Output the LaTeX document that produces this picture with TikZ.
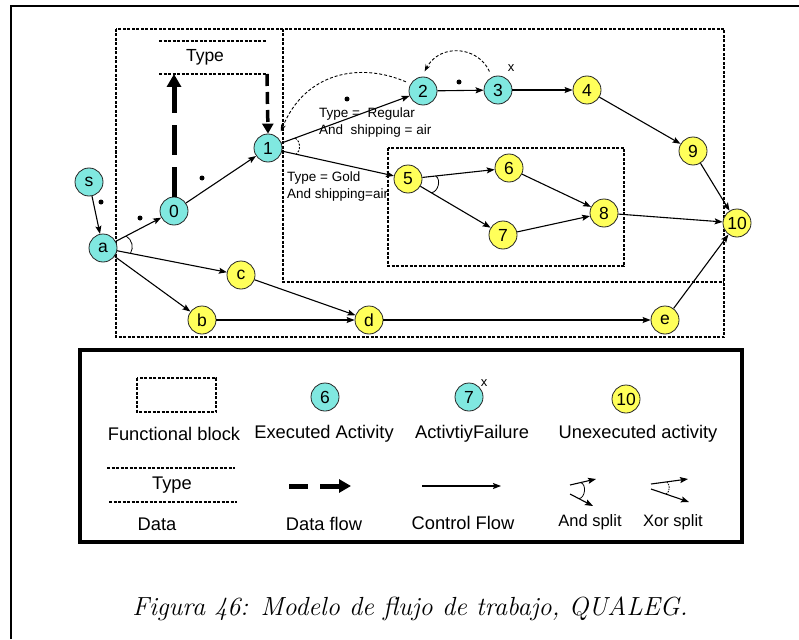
\documentclass[tikz,border=0pt]{standalone}
\usepackage{fontspec}
\newfontfamily\arial{Liberation Sans}
\usetikzlibrary{arrows.meta,calc}
\definecolor{execc}{RGB}{128,232,224}
\definecolor{unexecc}{RGB}{255,255,90}
\begin{document}
\begin{tikzpicture}[x=1pt,y=-1pt,
  act/.style={circle,draw=black!85,line width=0.8pt,minimum size=28pt,inner sep=0pt,font=\arial\fontsize{17.5}{17.5}\selectfont},
  ex/.style={act,fill=execc},
  un/.style={act,fill=unexecc},
  cf/.style={-{Stealth[length=8pt,width=6pt,inset=1.5pt]},line width=1.1pt},
  block/.style={draw,dash pattern=on 3pt off 1.5pt,line width=1.1pt},
  tok/.style={circle,fill=black,inner sep=0pt,minimum size=5pt},
  lbl/.style={font=\arial\fontsize{13.5}{16.5}\selectfont,align=left,inner sep=0pt},
  leg/.style={font=\arial\fontsize{18.3}{18.3}\selectfont,inner sep=0pt},
  bigt/.style={font=\arial\fontsize{17.5}{17.5}\selectfont,inner sep=0pt},
  xmark/.style={font=\arial\fontsize{13}{13}\selectfont,inner sep=0pt}
]
\useasboundingbox (0,0) rectangle (799,639);
% page frame
\draw[line width=2pt] (11,639) -- (11,6) -- (799,6);

% functional blocks
\draw[block] (116,29) rectangle (724,337);
\draw[block] (283,29) -- (283,282) -- (724,282);
\draw[block] (388,148) rectangle (624,266);

% data
\draw[block] (159,41) -- (267,41);
\draw[block] (159,74) -- (267,74);
\node[bigt] (typetop) at (205,57) {Type};

% activities
\node[ex] (s) at (89,182) {s};
\node[ex] (a) at (103,248) {a};
\node[ex] (n0) at (174,211) {0};
\node[ex] (n1) at (268,148) {1};
\node[ex] (n2) at (423,91) {2};
\node[ex] (n3) at (498,90) {3};
\node[un] (n4) at (587,90) {4};
\node[un] (n9) at (693,151) {9};
\node[un] (n10) at (737,223) {10};
\node[un] (n5) at (408,179) {5};
\node[un] (n6) at (509,168) {6};
\node[un] (n7) at (503,235) {7};
\node[un] (n8) at (604,213) {8};
\node[un] (c) at (241,275) {c};
\node[un] (b) at (202,320) {b};
\node[un] (d) at (369,320) {d};
\node[un] (e) at (665,320) {e};
\node[xmark] (x3) at (511,68) {x};

% control flow
\draw[cf] (s) -- (a);
\draw[cf] (a) -- (n0);
\draw[cf] (n0) -- (n1);
\draw[cf] (n1) -- (n2);
\draw[cf] (n1) -- (n5);
\draw[cf] (n2) -- (n3);
\draw[cf] (n3) -- (n4);
\draw[cf] (n4) -- (n9);
\draw[cf] (n9) -- (n10);
\draw[cf] (n5) -- (n6);
\draw[cf] (n5) -- (n7);
\draw[cf] (n6) -- (n8);
\draw[cf] (n7) -- (n8);
\draw[cf] (n8) -- (n10);
\draw[cf] (a) -- (c);
\draw[cf] (a) -- (b);
\draw[cf] (c) -- (d);
\draw[cf] (b) -- (d);
\draw[cf] (d) -- (e);
\draw[cf] (e) -- (n10);

% tokens
\node[tok] (t1) at (101,202) {};
\node[tok] (t2) at (140,218) {};
\node[tok] (t3) at (202,178) {};
\node[tok] (t4) at (347,99) {};
\node[tok] (t5) at (459,82) {};

% data flow arrows
\coordinate (dfup) at (174,74);
\coordinate (dfdn) at (267,74);
\draw[line width=5pt,dash pattern=on 30pt off 12pt,-{Triangle[length=13pt,width=14pt]}] (n0) -- (dfup);
\draw[line width=3.5pt,dash pattern=on 12pt off 6pt,-{Triangle[length=10pt,width=11pt]}] (dfdn) -- (n1.north);

% rollback (dashed curved) arrows
\draw[line width=0.9pt,dash pattern=on 3pt off 2pt,-{Stealth[length=7pt,width=5pt]},shorten <=5pt,shorten >=7pt]
  (n2.150) .. controls (360,62) and (305,72) .. (n1.45);
\draw[line width=0.9pt,dash pattern=on 3pt off 2pt,-{Stealth[length=7pt,width=5pt]},shorten <=6pt,shorten >=6pt]
  (n3.115) .. controls (478,46) and (440,43) .. (n2.95);

% split markers
\draw[dash pattern=on 2pt off 1.5pt,line width=0.9pt] ($(n1)!29pt!(n2)$) to[bend left=55] ($(n1)!29pt!(n5)$);
\draw[line width=0.8pt] ($(a)!26pt!(n0)$) to[bend left=45] ($(a)!28pt!(c)$);
\draw[line width=0.8pt] ($(n5)!28pt!(n6)$) to[bend left=70] ($(n5)!27pt!(n7)$);

% conditions
\node[lbl,anchor=north west] (condr) at (319,108) {Type =\ \ Regular\\And\ \ shipping = air};
\node[lbl,anchor=north west] (condg) at (287,172) {Type = Gold\\And shipping=air};

% legend
\draw[line width=4pt] (80,350) rectangle (742,542);
\draw[block] (137,378) rectangle (216,412);
\node[ex] (L6) at (325,397) {6};
\node[ex] (L7) at (469,397) {7};
\node[xmark] (Lx) at (484,383) {x};
\node[un] (L10) at (626,399) {10};
\node[leg] (lfb) at (174,434) {Functional block};
\node[leg] (lea) at (324,434) {Executed Activity};
\node[leg] (laf) at (472,434) {ActivtiyFailure};
\node[leg] (lua) at (638,434) {Unexecuted activity};
\draw[block] (107,468) -- (235,468);
\draw[block] (109,502) -- (237,502);
\node[leg] (ltype) at (172,485) {Type};
\node[leg] (ldata) at (157,524) {Data};
\coordinate (df1) at (289,486); \coordinate (df2) at (308,486);
\coordinate (df3) at (320,486); \coordinate (df4) at (351,486);
\draw[line width=5pt] (df1) -- (df2);
\draw[line width=5pt,-{Triangle[length=12pt,width=13pt]}] (df3) -- (df4);
\node[leg] (ldf) at (324,524) {Data flow};
\coordinate (cf1) at (422,486); \coordinate (cf2) at (501,486);
\draw[cf] (cf1) -- (cf2);
\node[leg] (lcf) at (463,523) {Control Flow};
% and split
\coordinate (as0) at (570,485); \coordinate (as1) at (596,479);
\coordinate (as2) at (570,494); \coordinate (as3) at (593,506);
\draw[cf] (as0) -- (as1);
\draw[cf] (as2) -- (as3);
\draw[line width=0.8pt] ($(as0)!11pt!(as1)$) to[bend left=80] ($(as2)!10pt!(as3)$);
\node[leg,font=\arial\fontsize{16.5}{16.5}\selectfont] (las) at (590,522) {And split};
% xor split
\coordinate (xs0) at (651,484); \coordinate (xs1) at (688,479);
\coordinate (xs2) at (651,489); \coordinate (xs3) at (689,502);
\draw[cf] (xs0) -- (xs1);
\draw[cf] (xs2) -- (xs3);
\draw[line width=0.8pt,dash pattern=on 1.5pt off 1pt] ($(xs0)!16pt!(xs1)$) to[bend left=50] ($(xs2)!16pt!(xs3)$);
\node[leg,font=\arial\fontsize{16.5}{16.5}\selectfont] (lxs) at (673,522) {Xor split};

% caption
\node[font=\fontsize{26.2}{30}\selectfont\itshape,inner sep=0pt] (cap) at (410,609) {Figura 46: Modelo de flujo de trabajo, QUALEG.};
\end{tikzpicture}
\end{document}
